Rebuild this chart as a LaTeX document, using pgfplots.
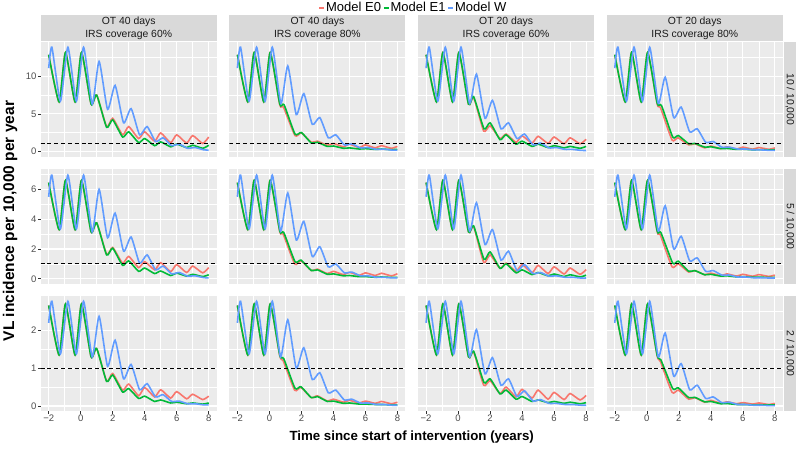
\documentclass[border=0pt]{standalone}
\usepackage{pgfplots}
\pgfplotsset{compat=1.18}
\usepackage{fontspec}
\setmainfont{Liberation Sans}
\definecolor{cEa}{HTML}{F8766D}
\definecolor{cEb}{HTML}{00BA38}
\definecolor{cW}{HTML}{619CFF}
\definecolor{panelbg}{HTML}{EBEBEB}
\definecolor{stripbg}{HTML}{D9D9D9}
\definecolor{grey30}{HTML}{4D4D4D}
\definecolor{grey20}{HTML}{333333}
\definecolor{grey10}{HTML}{1A1A1A}
\pgfplotsset{
  base/.style={
    scale only axis, width=176pt, height=114.5pt, anchor=south west,
    xmin=-2.5, xmax=8.5,
    axis background/.style={fill=panelbg},
    axis line style={draw=none},
    grid=both,
    major grid style={white, line width=1.1pt},
    minor grid style={white, line width=0.55pt},
    xtick={-2,0,2,4,6,8}, minor xtick={-1,1,3,5,7},
    xtick pos=bottom, ytick pos=left,
    tick align=outside, major tick length=2.6pt, minor tick length=0pt,
    tick style={grey20, line width=0.6pt},
    xticklabels={}, yticklabels={},
    xtick style={draw=none}, ytick style={draw=none},
    tick label style={font=\fontsize{9.5}{9.5}\selectfont, text=grey30},
    xticklabel style={inner sep=1.5pt},
    yticklabel style={inner sep=1.5pt},
    clip=true,
  },
  r1/.style={ymin=-0.7, ymax=14.6, ytick={0,5,10}, minor ytick={2.5,7.5,12.5}},
  r2/.style={ymin=-0.33, ymax=7.35, ytick={0,2,4,6}, minor ytick={1,3,5,7}},
  r3/.style={ymin=-0.13, ymax=2.9, ytick={0,1,2}, minor ytick={0.5,1.5,2.5}},
  bot/.style={xtick style={draw=grey20}, xticklabels={−2,0,2,4,6,8}},
  lefta/.style={ytick style={draw=grey20}, yticklabels={0,5,10}},
  leftb/.style={ytick style={draw=grey20}, yticklabels={0,2,4,6}},
  leftc/.style={ytick style={draw=grey20}, yticklabels={0,1,2}},
  ea/.style={cEa, line width=1.6pt, smooth, tension=0.35, no markers},
  eb/.style={cEb, line width=1.6pt, smooth, tension=0.35, no markers},
  ew/.style={cW, line width=1.6pt, smooth, tension=0.35, no markers},
  thr/.style={black, line width=0.9pt, dash pattern=on 4pt off 2.8pt, forget plot},
  legend image code/.code={\draw[#1, line width=1.6pt] (0pt,0pt) -- (5pt,0pt);},
}
\begin{document}
\begin{tikzpicture}[x=1pt,y=1pt]
\fill[white] (0,0) rectangle (796,451);
\useasboundingbox (0,0) rectangle (796,451);

% ---------------- Row 1 ----------------
\begin{axis}[base, r1, lefta, at={(40.7pt,294.5pt)},
  legend style={at={(2.115,1.297)}, anchor=center, draw=none, fill=none, legend columns=-1,
    font=\fontsize{13}{13}\selectfont, inner sep=0pt,
    /tikz/every even column/.append style={column sep=1pt},
    nodes={inner sep=1pt}}]
\addplot[ea] coordinates {(-2,12.9) (-1.35,6.6) (-0.95,13.2) (-0.35,6.6) (0.05,13.2) (0.65,6.3) (1.0,7.5) (1.62,3.3) (2.0,4.4) (2.62,2.2) (3.0,3.3) (3.62,1.7) (4.0,2.6) (4.62,1.35) (5.0,2.45) (5.62,1.15) (6.0,2.2) (6.62,1.1) (7.0,2.1) (7.62,1.05) (8.0,1.9)};
\addlegendentry{Model E0}
\addplot[eb] coordinates {(-2,12.9) (-1.35,6.6) (-0.95,13.2) (-0.35,6.6) (0.05,13.2) (0.65,6.3) (1.0,7.5) (1.62,3.2) (2.0,4.2) (2.62,1.9) (3.0,2.6) (3.62,1.15) (4.0,1.7) (4.62,0.75) (5.0,1.25) (5.62,0.6) (6.0,0.95) (6.62,0.5) (7.0,0.8) (7.62,0.4) (8.0,0.8)};
\addlegendentry{Model E1}
\addplot[ew] coordinates {(-2,11.1) (-1.8,13.9) (-1.27,6.7) (-0.8,13.9) (-0.27,6.7) (0.18,13.9) (0.72,6.3) (1.15,12.0) (1.68,5.6) (2.15,8.8) (2.68,3.8) (3.15,5.7) (3.68,2.2) (4.15,3.3) (4.68,1.3) (5.15,1.8) (5.68,0.75) (6.15,0.95) (6.68,0.4) (7.15,0.5) (7.68,0.2) (8.0,0.15)};
\addlegendentry{Model W}
\addplot[thr] coordinates {(-2.5,1) (8.5,1)};
\end{axis}

\begin{axis}[base, r1, at={(229.4pt,294.5pt)}]
\addplot[ea] coordinates {(-2,12.9) (-1.35,6.6) (-0.95,13.2) (-0.35,6.6) (0.05,13.2) (0.65,6.2) (0.88,5.9) (1.6,2.1) (2.0,2.45) (2.62,1.2) (3.0,1.35) (3.62,0.8) (4.0,1.05) (4.62,0.6) (5.0,0.95) (5.62,0.5) (6.0,0.85) (6.62,0.45) (7.0,0.75) (7.62,0.4) (8.0,0.65)};
\addplot[eb] coordinates {(-2,12.9) (-1.35,6.6) (-0.95,13.2) (-0.35,6.6) (0.05,13.2) (0.65,6.3) (0.92,6.2) (1.6,2.3) (2.0,2.5) (2.62,1.1) (3.0,1.2) (3.62,0.65) (4.0,0.7) (4.62,0.4) (5.0,0.45) (5.62,0.3) (6.0,0.35) (6.62,0.25) (7.0,0.3) (7.62,0.22) (8.0,0.25)};
\addplot[ew] coordinates {(-2,11.1) (-1.8,13.9) (-1.27,6.7) (-0.8,13.9) (-0.27,6.7) (0.18,13.9) (0.72,6.4) (1.15,11.4) (1.68,4.9) (2.15,7.7) (2.68,3.6) (3.15,4.5) (3.68,1.8) (4.15,2.2) (4.68,0.85) (5.15,1.0) (5.68,0.45) (6.15,0.5) (6.68,0.25) (7.15,0.28) (7.68,0.15) (8.0,0.15)};
\addplot[thr] coordinates {(-2.5,1) (8.5,1)};
\end{axis}

\begin{axis}[base, r1, at={(418.1pt,294.5pt)}]
\addplot[ea] coordinates {(-2,12.9) (-1.35,6.6) (-0.95,13.2) (-0.35,6.6) (0.05,13.2) (0.65,6.3) (0.97,7.2) (1.6,2.7) (2.0,3.4) (2.62,1.7) (3.0,2.3) (3.62,1.2) (4.0,2.05) (4.62,1.1) (5.0,2.0) (5.62,1.05) (6.0,1.9) (6.62,1.0) (7.0,1.8) (7.62,1.0) (8.0,1.6)};
\addplot[eb] coordinates {(-2,12.9) (-1.35,6.6) (-0.95,13.2) (-0.35,6.6) (0.05,13.2) (0.65,6.3) (0.97,7.3) (1.62,3.0) (2.0,3.8) (2.62,1.55) (3.0,2.2) (3.62,0.95) (4.0,1.35) (4.62,0.65) (5.0,0.95) (5.62,0.5) (6.0,0.75) (6.62,0.45) (7.0,0.65) (7.62,0.4) (8.0,0.65)};
\addplot[ew] coordinates {(-2,11.1) (-1.8,13.9) (-1.27,6.7) (-0.8,13.9) (-0.27,6.7) (0.18,13.9) (0.72,6.4) (1.15,10.3) (1.68,4.4) (2.15,6.8) (2.68,3.0) (3.15,3.8) (3.68,1.7) (4.15,2.3) (4.68,0.85) (5.15,1.1) (5.68,0.45) (6.15,0.5) (6.68,0.25) (7.15,0.25) (7.68,0.12) (8.0,0.1)};
\addplot[thr] coordinates {(-2.5,1) (8.5,1)};
\end{axis}

\begin{axis}[base, r1, at={(606.8pt,294.5pt)}]
\addplot[ea] coordinates {(-2,12.9) (-1.35,6.6) (-0.95,13.2) (-0.35,6.6) (0.05,13.2) (0.65,6.3) (0.86,5.8) (1.58,1.5) (1.95,1.8) (2.62,0.85) (3.0,1.0) (3.62,0.45) (4.0,0.7) (4.62,0.35) (5.0,0.6) (5.62,0.3) (6.0,0.55) (6.62,0.28) (7.0,0.5) (7.62,0.27) (8.0,0.45)};
\addplot[eb] coordinates {(-2,12.9) (-1.35,6.6) (-0.95,13.2) (-0.35,6.6) (0.05,13.2) (0.65,6.4) (0.92,6.1) (1.62,1.9) (1.97,2.1) (2.62,1.0) (3.0,1.05) (3.62,0.55) (4.0,0.6) (4.62,0.35) (5.0,0.38) (5.62,0.25) (6.0,0.28) (6.62,0.2) (7.0,0.22) (7.62,0.18) (8.0,0.2)};
\addplot[ew] coordinates {(-2,11.1) (-1.8,13.9) (-1.27,6.7) (-0.8,13.9) (-0.27,6.7) (0.18,13.9) (0.72,6.4) (1.15,9.9) (1.68,4.5) (2.15,5.9) (2.68,2.6) (3.15,3.0) (3.68,1.2) (4.15,1.3) (4.68,0.55) (5.15,0.55) (5.68,0.3) (6.15,0.3) (6.68,0.18) (7.15,0.18) (7.68,0.12) (8.0,0.12)};
\addplot[thr] coordinates {(-2.5,1) (8.5,1)};
\end{axis}

% ---------------- Row 2 ----------------
\begin{axis}[base, r2, leftb, at={(40.7pt,167.3pt)}]
\addplot[ea] coordinates {(-2,6.45) (-1.35,3.3) (-0.95,6.6) (-0.35,3.3) (0.05,6.6) (0.65,3.15) (1.0,3.75) (1.62,1.65) (2.0,2.1) (2.62,1.05) (3.0,1.5) (3.62,0.75) (4.0,1.15) (4.62,0.6) (5.0,1.08) (5.62,0.48) (6.0,0.95) (6.62,0.42) (7.0,0.85) (7.62,0.4) (8.0,0.75)};
\addplot[eb] coordinates {(-2,6.45) (-1.35,3.3) (-0.95,6.6) (-0.35,3.3) (0.05,6.6) (0.65,3.15) (1.0,3.75) (1.62,1.6) (2.0,2.05) (2.62,0.9) (3.0,1.2) (3.62,0.5) (4.0,0.72) (4.62,0.35) (5.0,0.52) (5.62,0.22) (6.0,0.38) (6.62,0.18) (7.0,0.3) (7.62,0.15) (8.0,0.27)};
\addplot[ew] coordinates {(-2,5.5) (-1.8,6.95) (-1.27,3.35) (-0.8,6.95) (-0.27,3.35) (0.18,6.95) (0.72,3.15) (1.15,6.0) (1.68,2.75) (2.15,4.4) (2.68,1.85) (3.15,2.8) (3.68,1.05) (4.15,1.6) (4.68,0.6) (5.15,0.85) (5.68,0.33) (6.15,0.42) (6.68,0.18) (7.15,0.2) (7.68,0.08) (8.0,0.06)};
\addplot[thr] coordinates {(-2.5,1) (8.5,1)};
\end{axis}

\begin{axis}[base, r2, at={(229.4pt,167.3pt)}]
\addplot[ea] coordinates {(-2,6.45) (-1.35,3.3) (-0.95,6.6) (-0.35,3.3) (0.05,6.6) (0.65,3.15) (0.86,3.0) (1.58,1.0) (1.98,1.2) (2.62,0.55) (3.0,0.65) (3.62,0.35) (4.0,0.5) (4.62,0.28) (5.0,0.43) (5.62,0.23) (6.0,0.4) (6.62,0.22) (7.0,0.37) (7.62,0.2) (8.0,0.34)};
\addplot[eb] coordinates {(-2,6.45) (-1.35,3.3) (-0.95,6.6) (-0.35,3.3) (0.05,6.6) (0.65,3.2) (0.9,3.1) (1.6,1.15) (1.98,1.25) (2.62,0.55) (3.0,0.6) (3.62,0.3) (4.0,0.33) (4.62,0.2) (5.0,0.22) (5.62,0.14) (6.0,0.15) (6.62,0.1) (7.0,0.12) (7.62,0.09) (8.0,0.1)};
\addplot[ew] coordinates {(-2,5.5) (-1.8,6.95) (-1.27,3.35) (-0.8,6.95) (-0.27,3.35) (0.18,6.95) (0.7,3.2) (1.15,5.75) (1.68,2.6) (2.15,3.85) (2.68,1.5) (3.15,2.15) (3.68,0.8) (4.15,1.0) (4.68,0.4) (5.15,0.45) (5.68,0.2) (6.15,0.2) (6.68,0.1) (7.15,0.1) (7.68,0.06) (8.0,0.06)};
\addplot[thr] coordinates {(-2.5,1) (8.5,1)};
\end{axis}

\begin{axis}[base, r2, at={(418.1pt,167.3pt)}]
\addplot[ea] coordinates {(-2,6.45) (-1.35,3.3) (-0.95,6.6) (-0.35,3.3) (0.05,6.6) (0.65,3.15) (0.97,3.5) (1.6,1.1) (2.0,1.6) (2.62,0.7) (3.0,1.05) (3.62,0.5) (4.0,0.95) (4.62,0.4) (5.0,0.9) (5.62,0.35) (6.0,0.8) (6.62,0.32) (7.0,0.72) (7.62,0.3) (8.0,0.62)};
\addplot[eb] coordinates {(-2,6.45) (-1.35,3.3) (-0.95,6.6) (-0.35,3.3) (0.05,6.6) (0.65,3.15) (0.97,3.55) (1.62,1.3) (2.0,1.8) (2.62,0.7) (3.0,1.0) (3.62,0.4) (4.0,0.6) (4.62,0.28) (5.0,0.42) (5.62,0.2) (6.0,0.32) (6.62,0.15) (7.0,0.27) (7.62,0.13) (8.0,0.24)};
\addplot[ew] coordinates {(-2,5.5) (-1.8,6.95) (-1.27,3.35) (-0.8,6.95) (-0.27,3.35) (0.18,6.95) (0.72,3.2) (1.15,5.1) (1.68,2.3) (2.15,3.3) (2.68,1.25) (3.15,1.85) (3.68,0.55) (4.15,0.95) (4.68,0.35) (5.15,0.42) (5.68,0.18) (6.15,0.2) (6.68,0.1) (7.15,0.1) (7.68,0.05) (8.0,0.05)};
\addplot[thr] coordinates {(-2.5,1) (8.5,1)};
\end{axis}

\begin{axis}[base, r2, at={(606.8pt,167.3pt)}]
\addplot[ea] coordinates {(-2,6.45) (-1.35,3.3) (-0.95,6.6) (-0.35,3.3) (0.05,6.6) (0.65,3.15) (0.84,2.95) (1.58,0.8) (1.97,1.0) (2.62,0.45) (3.0,0.55) (3.62,0.27) (4.0,0.38) (4.62,0.2) (5.0,0.33) (5.62,0.18) (6.0,0.3) (6.62,0.17) (7.0,0.28) (7.62,0.16) (8.0,0.25)};
\addplot[eb] coordinates {(-2,6.45) (-1.35,3.3) (-0.95,6.6) (-0.35,3.3) (0.05,6.6) (0.65,3.2) (0.88,3.1) (1.62,1.05) (1.97,1.18) (2.62,0.5) (3.0,0.55) (3.62,0.27) (4.0,0.3) (4.62,0.18) (5.0,0.2) (5.62,0.13) (6.0,0.14) (6.62,0.1) (7.0,0.11) (7.62,0.09) (8.0,0.1)};
\addplot[ew] coordinates {(-2,5.5) (-1.8,6.95) (-1.27,3.35) (-0.8,6.95) (-0.27,3.35) (0.18,6.95) (0.72,3.2) (1.15,4.9) (1.68,2.0) (2.15,2.85) (2.68,1.2) (3.15,1.4) (3.68,0.5) (4.15,0.55) (4.68,0.25) (5.15,0.25) (5.68,0.12) (6.15,0.12) (6.68,0.07) (7.15,0.07) (7.68,0.05) (8.0,0.05)};
\addplot[thr] coordinates {(-2.5,1) (8.5,1)};
\end{axis}

% ---------------- Row 3 ----------------
\begin{axis}[base, r3, leftc, bot, at={(40.7pt,40.1pt)}]
\addplot[ea] coordinates {(-2,2.66) (-1.35,1.35) (-0.95,2.7) (-0.35,1.35) (0.05,2.7) (0.65,1.3) (1.0,1.52) (1.62,0.66) (2.0,0.86) (2.62,0.42) (3.0,0.58) (3.62,0.27) (4.0,0.49) (4.62,0.24) (5.0,0.43) (5.62,0.21) (6.0,0.38) (6.62,0.19) (7.0,0.31) (7.62,0.17) (8.0,0.26)};
\addplot[eb] coordinates {(-2,2.66) (-1.35,1.35) (-0.95,2.7) (-0.35,1.35) (0.05,2.7) (0.65,1.3) (1.0,1.52) (1.62,0.65) (2.0,0.82) (2.62,0.37) (3.0,0.46) (3.62,0.2) (4.0,0.26) (4.62,0.12) (5.0,0.16) (5.62,0.08) (6.0,0.1) (6.62,0.06) (7.0,0.08) (7.62,0.05) (8.0,0.08)};
\addplot[ew] coordinates {(-2,2.2) (-1.8,2.77) (-1.27,1.38) (-0.8,2.77) (-0.27,1.38) (0.18,2.77) (0.72,1.3) (1.15,2.37) (1.68,1.05) (2.15,1.74) (2.68,0.72) (3.15,1.1) (3.68,0.43) (4.15,0.59) (4.68,0.24) (5.15,0.3) (5.68,0.12) (6.15,0.13) (6.68,0.06) (7.15,0.06) (7.68,0.03) (8.0,0.03)};
\addplot[thr] coordinates {(-2.5,1) (8.5,1)};
\end{axis}

\begin{axis}[base, r3, bot, at={(229.4pt,40.1pt)}]
\addplot[ea] coordinates {(-2,2.66) (-1.35,1.35) (-0.95,2.7) (-0.35,1.35) (0.05,2.7) (0.65,1.32) (0.86,1.2) (1.58,0.42) (1.97,0.49) (2.62,0.22) (3.0,0.27) (3.62,0.13) (4.0,0.18) (4.62,0.1) (5.0,0.15) (5.62,0.08) (6.0,0.13) (6.62,0.07) (7.0,0.12) (7.62,0.06) (8.0,0.1)};
\addplot[eb] coordinates {(-2,2.66) (-1.35,1.35) (-0.95,2.7) (-0.35,1.35) (0.05,2.7) (0.65,1.34) (0.9,1.25) (1.6,0.47) (1.97,0.51) (2.62,0.22) (3.0,0.25) (3.62,0.12) (4.0,0.13) (4.62,0.07) (5.0,0.08) (5.62,0.05) (6.0,0.05) (6.62,0.04) (7.0,0.04) (7.62,0.03) (8.0,0.03)};
\addplot[ew] coordinates {(-2,2.2) (-1.8,2.77) (-1.27,1.38) (-0.8,2.77) (-0.27,1.38) (0.18,2.77) (0.7,1.3) (1.15,2.28) (1.68,1.0) (2.15,1.54) (2.68,0.7) (3.15,0.88) (3.68,0.35) (4.15,0.42) (4.68,0.16) (5.15,0.18) (5.68,0.08) (6.15,0.08) (6.68,0.04) (7.15,0.04) (7.68,0.02) (8.0,0.02)};
\addplot[thr] coordinates {(-2.5,1) (8.5,1)};
\end{axis}

\begin{axis}[base, r3, bot, at={(418.1pt,40.1pt)}]
\addplot[ea] coordinates {(-2,2.66) (-1.35,1.35) (-0.95,2.7) (-0.35,1.35) (0.05,2.7) (0.65,1.3) (0.97,1.43) (1.6,0.55) (2.0,0.67) (2.62,0.33) (3.0,0.5) (3.62,0.24) (4.0,0.44) (4.62,0.21) (5.0,0.42) (5.62,0.18) (6.0,0.36) (6.62,0.17) (7.0,0.33) (7.62,0.16) (8.0,0.28)};
\addplot[eb] coordinates {(-2,2.66) (-1.35,1.35) (-0.95,2.7) (-0.35,1.35) (0.05,2.7) (0.65,1.3) (0.97,1.45) (1.62,0.62) (2.0,0.72) (2.62,0.32) (3.0,0.42) (3.62,0.18) (4.0,0.25) (4.62,0.12) (5.0,0.16) (5.62,0.09) (6.0,0.12) (6.62,0.07) (7.0,0.1) (7.62,0.06) (8.0,0.09)};
\addplot[ew] coordinates {(-2,2.2) (-1.8,2.77) (-1.27,1.38) (-0.8,2.77) (-0.27,1.38) (0.18,2.77) (0.72,1.3) (1.15,2.02) (1.68,0.85) (2.15,1.28) (2.68,0.55) (3.15,0.72) (3.68,0.25) (4.15,0.4) (4.68,0.13) (5.15,0.17) (5.68,0.07) (6.15,0.07) (6.68,0.04) (7.15,0.04) (7.68,0.02) (8.0,0.02)};
\addplot[thr] coordinates {(-2.5,1) (8.5,1)};
\end{axis}

\begin{axis}[base, r3, bot, at={(606.8pt,40.1pt)}]
\addplot[ea] coordinates {(-2,2.66) (-1.35,1.35) (-0.95,2.7) (-0.35,1.35) (0.05,2.7) (0.65,1.32) (0.85,1.18) (1.58,0.36) (1.97,0.42) (2.62,0.18) (3.0,0.22) (3.62,0.1) (4.0,0.15) (4.62,0.07) (5.0,0.11) (5.62,0.06) (6.0,0.09) (6.62,0.05) (7.0,0.08) (7.62,0.04) (8.0,0.07)};
\addplot[eb] coordinates {(-2,2.66) (-1.35,1.35) (-0.95,2.7) (-0.35,1.35) (0.05,2.7) (0.65,1.34) (0.88,1.22) (1.62,0.46) (1.97,0.48) (2.62,0.22) (3.0,0.23) (3.62,0.11) (4.0,0.12) (4.62,0.06) (5.0,0.065) (5.62,0.04) (6.0,0.04) (6.62,0.03) (7.0,0.03) (7.62,0.03) (8.0,0.03)};
\addplot[ew] coordinates {(-2,2.2) (-1.8,2.77) (-1.27,1.38) (-0.8,2.77) (-0.27,1.38) (0.18,2.77) (0.72,1.3) (1.15,1.93) (1.68,0.79) (2.15,1.12) (2.68,0.43) (3.15,0.55) (3.68,0.2) (4.15,0.24) (4.68,0.09) (5.15,0.1) (5.68,0.04) (6.15,0.04) (6.68,0.02) (7.15,0.02) (7.68,0.01) (8.0,0.01)};
\addplot[thr] coordinates {(-2.5,1) (8.5,1)};
\end{axis}

% ---------------- strips ----------------
\fill[stripbg] (40.7,409.5) rectangle (216.7,436);
\fill[stripbg] (229.4,409.5) rectangle (405.4,436);
\fill[stripbg] (418.1,409.5) rectangle (594.1,436);
\fill[stripbg] (606.8,409.5) rectangle (782.8,436);
\begin{scope}[every node/.style={align=center, text=grey10, font=\fontsize{10.4}{12.4}\selectfont, inner sep=0pt}]
\node at (128.7,422.7) {OT 40 days\\IRS coverage 60\%};
\node at (317.4,422.7) {OT 40 days\\IRS coverage 80\%};
\node at (506.1,422.7) {OT 20 days\\IRS coverage 60\%};
\node at (694.8,422.7) {OT 20 days\\IRS coverage 80\%};
\end{scope}
\fill[stripbg] (784,294.5) rectangle (796,409);
\fill[stripbg] (784,167.3) rectangle (796,281.8);
\fill[stripbg] (784,40.1) rectangle (796,154.6);
\begin{scope}[every node/.style={rotate=-90, text=grey10, font=\fontsize{10.4}{10.4}\selectfont, inner sep=0pt}]
\node at (790,351.75) {10 / 10,000};
\node at (790,224.55) {5 / 10,000};
\node at (790,97.35) {2 / 10,000};
\end{scope}

% ---------------- axis titles ----------------
\node[font=\bfseries\fontsize{13.3}{13.3}\selectfont] at (411.7,14) {Time since start of intervention (years)};
\node[rotate=90, font=\bfseries\fontsize{15.5}{15.5}\selectfont] at (10,230) {VL incidence per 10,000 per year};
\end{tikzpicture}
\end{document}
